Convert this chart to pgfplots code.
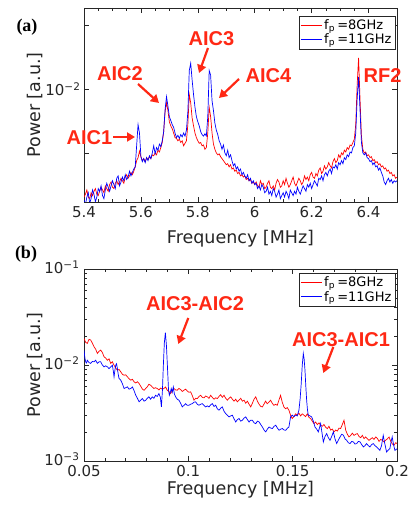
\documentclass[border=0pt]{standalone}
\usepackage{fontspec}
\setmainfont{DejaVu Sans}
\newfontfamily\annfont{Liberation Sans}
\newfontfamily\panelfont{Liberation Serif}
\usepackage{pgfplots}
\pgfplotsset{compat=1.18}
\usetikzlibrary{arrows.meta}

\definecolor{annred}{RGB}{255,40,20}
\definecolor{axgray}{RGB}{38,38,38}

% power values are in units of 1e-3 a.u.
\pgfplotstableread{
f p
5.400 3.1
5.405 3.2
5.410 3.35
5.415 3.1
5.420 3.05
5.425 3.25
5.430 3.15
5.435 3.3
5.440 3.4
5.445 3.2
5.450 3.15
5.455 3.3
5.460 3.45
5.465 3.35
5.470 3.25
5.475 3.5
5.480 3.4
5.485 3.3
5.490 3.55
5.495 3.65
5.500 3.45
5.505 3.4
5.510 3.6
5.515 3.7
5.520 3.55
5.525 3.65
5.530 3.8
5.535 3.7
5.540 3.6
5.545 3.85
5.550 3.95
5.555 3.8
5.560 3.9
5.565 4.05
5.570 3.95
5.575 4.1
5.580 4.3
5.585 4.6
5.590 4.75
5.595 5.1
5.600 4.8
5.605 4.6
5.610 4.7
5.615 4.55
5.620 4.75
5.625 4.65
5.630 4.8
5.635 4.7
5.640 4.9
5.645 4.85
5.650 5.0
5.655 4.9
5.660 5.15
5.665 5.05
5.670 5.3
5.675 5.6
5.680 6.3
5.685 7.8
5.690 8.6
5.695 7.9
5.700 7.0
5.705 6.7
5.710 6.5
5.715 6.2
5.720 5.9
5.725 5.85
5.730 5.7
5.735 5.8
5.740 5.6
5.745 5.7
5.750 5.4
5.755 5.55
5.760 5.7
5.765 6.8
5.770 9.4
5.775 8.6
5.780 7.3
5.785 6.7
5.790 6.2
5.795 5.9
5.800 5.7
5.805 5.55
5.810 5.6
5.815 5.4
5.820 5.45
5.825 5.2
5.830 5.3
5.835 6.2
5.840 8.2
5.845 7.4
5.850 6.2
5.855 5.5
5.860 5.2
5.865 5.0
5.870 4.9
5.875 4.95
5.880 4.8
5.885 4.7
5.890 4.6
5.895 4.5
5.900 4.4
5.905 4.45
5.910 4.3
5.915 4.4
5.920 4.2
5.925 4.25
5.930 4.1
5.935 4.15
5.940 4.0
5.945 4.05
5.950 3.9
5.955 3.95
5.960 3.85
5.965 3.9
5.970 3.75
5.975 3.8
5.980 3.7
5.985 3.75
5.990 3.6
5.995 3.65
6.000 3.55
6.005 3.65
6.010 3.5
6.015 3.45
6.020 3.7
6.025 3.55
6.030 3.6
6.035 3.4
6.040 3.45
6.045 3.6
6.050 3.7
6.055 3.45
6.060 3.4
6.065 3.5
6.070 3.35
6.075 3.6
6.080 3.75
6.085 3.65
6.090 3.45
6.095 3.5
6.100 3.7
6.105 3.55
6.110 3.8
6.115 3.6
6.120 3.45
6.125 3.55
6.130 3.7
6.135 3.85
6.140 3.6
6.145 3.5
6.150 3.65
6.155 3.8
6.160 3.7
6.165 3.55
6.170 3.65
6.175 3.9
6.180 3.75
6.185 3.85
6.190 3.7
6.195 3.95
6.200 4.05
6.205 3.85
6.210 3.8
6.215 4.0
6.220 3.9
6.225 4.15
6.230 4.25
6.235 4.0
6.240 4.1
6.245 4.35
6.250 4.2
6.255 4.3
6.260 4.5
6.265 4.35
6.270 4.25
6.275 4.55
6.280 4.7
6.285 4.5
6.290 4.6
6.295 4.9
6.300 4.75
6.305 5.0
6.310 4.9
6.315 5.15
6.320 5.05
6.325 5.3
6.330 5.2
6.335 5.45
6.340 5.4
6.345 5.6
6.350 5.8
6.355 6.8
6.360 10.5
6.365 14.0
6.370 9.0
6.375 6.0
6.380 5.2
6.385 5.0
6.390 5.05
6.395 4.85
6.400 4.9
6.405 4.75
6.410 4.8
6.415 4.6
6.420 4.65
6.425 4.5
6.430 4.55
6.435 4.4
6.440 4.45
6.445 4.3
6.450 4.35
6.455 4.2
6.460 4.25
6.465 4.1
6.470 4.15
6.475 4.0
6.480 4.05
6.485 3.9
6.490 3.95
6.495 3.8
6.500 3.85
}\aRed

\pgfplotstableread{
f p
5.400 3.0
5.405 2.85
5.410 3.1
5.415 3.25
5.420 2.9
5.425 3.05
5.430 3.35
5.435 3.2
5.440 2.95
5.445 3.1
5.450 3.4
5.455 3.3
5.460 3.5
5.465 3.15
5.470 3.05
5.475 3.35
5.480 3.6
5.485 3.45
5.490 3.3
5.495 3.5
5.500 3.7
5.505 3.55
5.510 3.4
5.515 3.8
5.520 3.9
5.525 3.5
5.530 3.65
5.535 3.85
5.540 3.7
5.545 3.95
5.550 3.75
5.555 3.85
5.560 4.1
5.565 3.9
5.570 4.05
5.575 4.2
5.580 4.3
5.585 5.4
5.590 6.8
5.595 6.2
5.600 4.8
5.605 4.55
5.610 4.7
5.615 4.5
5.620 4.75
5.625 4.6
5.630 4.85
5.635 4.7
5.640 5.0
5.645 5.4
5.650 4.95
5.655 5.3
5.660 5.15
5.665 5.5
5.670 5.35
5.675 5.7
5.680 6.3
5.685 8.0
5.690 9.2
5.695 8.3
5.700 7.4
5.705 7.1
5.710 6.8
5.715 6.6
5.720 6.2
5.725 5.9
5.730 6.05
5.735 5.85
5.740 6.1
5.745 5.95
5.750 6.2
5.755 6.0
5.760 6.4
5.765 7.8
5.770 12.2
5.775 13.2
5.780 11.0
5.785 9.4
5.790 8.2
5.795 7.4
5.800 7.0
5.805 6.7
5.810 6.3
5.815 6.1
5.820 6.0
5.825 6.15
5.830 6.0
5.835 7.4
5.840 12.2
5.845 11.6
5.850 8.8
5.855 7.9
5.860 6.9
5.865 6.4
5.870 6.1
5.875 5.7
5.880 5.5
5.885 5.2
5.890 5.45
5.895 5.0
5.900 4.85
5.905 5.15
5.910 4.75
5.915 4.9
5.920 4.6
5.925 4.35
5.930 4.45
5.935 4.2
5.940 4.3
5.945 4.1
5.950 4.2
5.955 3.95
5.960 4.05
5.965 3.9
5.970 3.8
5.975 3.95
5.980 3.7
5.985 3.8
5.990 3.6
5.995 3.7
6.000 3.55
6.005 3.6
6.010 3.4
6.015 3.5
6.020 3.35
6.025 3.55
6.030 3.45
6.035 3.25
6.040 3.3
6.045 3.45
6.050 3.2
6.055 3.3
6.060 3.15
6.065 3.4
6.070 3.3
6.075 3.1
6.080 3.2
6.085 3.35
6.090 3.05
6.095 3.15
6.100 3.25
6.105 3.1
6.110 3.3
6.115 3.2
6.120 3.05
6.125 3.35
6.130 3.25
6.135 3.15
6.140 3.3
6.145 3.2
6.150 3.45
6.155 3.3
6.160 3.2
6.165 3.35
6.170 3.5
6.175 3.4
6.180 3.3
6.185 3.55
6.190 3.45
6.195 3.6
6.200 3.4
6.205 3.55
6.210 3.7
6.215 3.6
6.220 3.5
6.225 3.8
6.230 3.75
6.235 3.9
6.240 3.7
6.245 3.95
6.250 4.05
6.255 3.9
6.260 4.1
6.265 4.2
6.270 4.0
6.275 4.3
6.280 4.25
6.285 4.4
6.290 4.2
6.295 4.5
6.300 4.4
6.305 4.6
6.310 4.45
6.315 4.75
6.320 4.65
6.325 4.9
6.330 4.8
6.335 5.05
6.340 5.0
6.345 5.3
6.350 5.4
6.355 6.2
6.360 9.0
6.365 11.4
6.370 8.0
6.375 5.6
6.380 5.0
6.385 4.9
6.390 5.0
6.395 4.75
6.400 4.7
6.405 4.55
6.410 4.6
6.415 4.4
6.420 4.5
6.425 4.3
6.430 4.35
6.435 4.15
6.440 4.25
6.445 4.05
6.450 3.9
6.455 3.65
6.460 3.55
6.465 3.7
6.470 3.8
6.475 3.65
6.480 3.75
6.485 3.6
6.490 3.7
6.495 3.65
6.500 3.7
}\aBlue

\pgfplotstableread{
f p
0.0500 18.9
0.0508 17.2
0.0516 16.8
0.0524 18.5
0.0532 18.2
0.0540 16.9
0.0548 15.5
0.0556 14.6
0.0564 13.2
0.0572 13.9
0.0580 14.3
0.0588 13.5
0.0596 12.2
0.0604 11.8
0.0612 11.2
0.0620 11.6
0.0628 10.4
0.0636 10.8
0.0644 9.95
0.0652 9.3
0.0660 8.83
0.0668 9.0
0.0676 8.49
0.0684 8.0
0.0692 7.83
0.0700 7.9
0.0708 7.53
0.0716 7.2
0.0724 6.95
0.0732 7.1
0.0740 6.67
0.0748 6.5
0.0756 6.7
0.0764 6.41
0.0772 6.0
0.0780 5.6
0.0788 5.46
0.0796 5.7
0.0803 5.92
0.0811 6.3
0.0819 6.16
0.0827 5.9
0.0835 5.69
0.0843 5.8
0.0851 5.69
0.0859 5.5
0.0867 5.75
0.0875 5.6
0.0883 5.69
0.0891 5.9
0.0899 5.46
0.0907 5.3
0.0915 5.04
0.0923 5.4
0.0931 5.69
0.0939 5.5
0.0947 5.46
0.0955 5.7
0.0963 5.55
0.0971 5.3
0.0979 5.46
0.0987 5.6
0.0995 5.35
0.1003 5.2
0.1011 5.25
0.1019 4.8
0.1027 4.30
0.1035 4.5
0.1043 4.47
0.1051 4.7
0.1059 4.84
0.1067 4.6
0.1075 4.55
0.1083 4.75
0.1091 4.66
0.1099 4.5
0.1107 4.84
0.1115 4.6
0.1123 4.4
0.1131 4.55
0.1139 4.47
0.1147 4.7
0.1155 4.9
0.1163 4.6
0.1171 4.84
0.1179 4.5
0.1187 4.30
0.1195 4.5
0.1203 4.66
0.1211 4.4
0.1219 4.2
0.1227 4.4
0.1235 4.13
0.1243 4.3
0.1251 4.5
0.1259 4.2
0.1267 4.30
0.1275 4.0
0.1283 4.2
0.1291 3.9
0.1299 3.66
0.1307 4.0
0.1315 4.4
0.1323 4.66
0.1331 4.2
0.1339 3.9
0.1347 3.7
0.1355 3.66
0.1362 3.9
0.1370 4.2
0.1378 3.95
0.1386 4.1
0.1394 4.30
0.1402 4.0
0.1410 3.8
0.1418 3.9
0.1426 3.81
0.1434 4.3
0.1442 4.84
0.1450 4.1
0.1458 3.66
0.1466 3.5
0.1474 3.6
0.1482 3.38
0.1490 3.0
0.1498 2.77
0.1506 2.9
0.1514 3.1
0.1522 3.0
0.1530 3.15
0.1538 2.95
0.1546 3.1
0.1554 3.0
0.1562 2.9
0.1570 3.1
0.1578 2.85
0.1586 2.77
0.1594 2.6
0.1602 2.45
0.1610 2.55
0.1618 2.4
0.1626 2.5
0.1634 2.36
0.1642 2.3
0.1650 2.4
0.1658 2.25
0.1666 2.17
0.1674 2.3
0.1682 2.1
0.1690 2.15
0.1698 2.01
0.1706 2.1
0.1714 2.05
0.1722 2.2
0.1730 2.18
0.1738 2.4
0.1746 2.66
0.1754 2.1
0.1762 1.9
0.1770 1.78
0.1778 1.85
0.1786 1.95
0.1794 1.85
0.1802 1.9
0.1810 1.93
0.1818 1.8
0.1826 1.75
0.1834 1.85
0.1842 1.71
0.1850 1.78
0.1858 1.7
0.1866 1.64
0.1874 1.7
0.1882 1.75
0.1890 1.68
0.1898 1.78
0.1906 1.72
0.1914 1.6
0.1922 1.68
0.1930 1.64
0.1938 1.58
0.1946 1.65
0.1954 1.7
0.1962 1.78
0.1970 1.6
0.1978 1.5
0.1986 1.46
0.1994 1.55
0.2000 1.52
}\bRed

\pgfplotstableread{
f p
0.0500 14.3
0.0504 12.0
0.0508 10.8
0.0512 10.5
0.0516 11.2
0.0524 10.6
0.0532 10.4
0.0540 10.9
0.0548 10.8
0.0556 11.2
0.0564 10.4
0.0572 10.8
0.0580 10.8
0.0588 10.0
0.0596 9.57
0.0604 9.8
0.0612 9.57
0.0620 9.18
0.0628 9.57
0.0636 9.95
0.0641 8.5
0.0644 7.53
0.0648 8.8
0.0652 9.95
0.0656 10.3
0.0660 9.18
0.0664 8.0
0.0668 7.23
0.0676 6.95
0.0684 6.4
0.0692 5.69
0.0700 5.8
0.0708 5.92
0.0716 5.6
0.0724 5.69
0.0732 5.92
0.0740 5.4
0.0748 4.84
0.0756 4.5
0.0764 4.13
0.0772 4.3
0.0780 4.47
0.0788 4.2
0.0796 4.30
0.0803 4.5
0.0811 4.66
0.0819 4.4
0.0827 4.66
0.0835 4.5
0.0843 4.84
0.0851 4.7
0.0859 5.04
0.0866 4.6
0.0871 3.66
0.0876 5.5
0.0880 9.57
0.0885 17.0
0.0890 21.7
0.0895 16.0
0.0900 9.5
0.0905 5.5
0.0909 4.84
0.0914 5.2
0.0918 5.69
0.0923 5.2
0.0928 5.92
0.0933 5.0
0.0939 4.66
0.0947 4.4
0.0955 4.30
0.0963 4.0
0.0971 3.66
0.0979 3.8
0.0987 3.96
0.0995 3.8
0.1003 3.81
0.1011 3.9
0.1019 3.96
0.1027 4.1
0.1035 4.13
0.1043 3.9
0.1051 3.81
0.1059 3.9
0.1067 3.96
0.1075 3.8
0.1083 3.66
0.1091 3.75
0.1099 3.66
0.1107 3.85
0.1115 3.96
0.1123 3.7
0.1131 3.81
0.1139 3.5
0.1147 3.38
0.1155 3.55
0.1163 3.66
0.1171 3.3
0.1179 3.12
0.1187 3.0
0.1195 2.88
0.1203 2.95
0.1211 3.0
0.1219 2.75
0.1227 2.55
0.1235 2.7
0.1243 2.77
0.1251 2.6
0.1259 2.66
0.1267 2.8
0.1275 2.88
0.1283 2.7
0.1291 2.55
0.1299 2.66
0.1307 2.66
0.1315 2.5
0.1323 2.45
0.1331 2.6
0.1339 2.55
0.1347 2.4
0.1355 2.26
0.1363 2.1
0.1371 2.01
0.1379 2.15
0.1387 2.26
0.1395 2.2
0.1403 2.18
0.1411 2.3
0.1419 2.36
0.1427 2.2
0.1435 2.09
0.1443 2.15
0.1451 2.18
0.1459 2.1
0.1467 2.09
0.1475 2.2
0.1482 2.26
0.1490 2.88
0.1498 3.0
0.1506 2.9
0.1514 3.0
0.1522 2.95
0.1530 3.38
0.1536 4.5
0.1541 6.41
0.1546 10.0
0.1551 13.2
0.1555 11.5
0.1559 8.83
0.1563 6.0
0.1567 4.30
0.1571 3.4
0.1575 3.0
0.1583 2.95
0.1591 2.88
0.1599 2.6
0.1607 2.26
0.1615 2.15
0.1623 2.01
0.1628 2.2
0.1634 2.45
0.1640 2.0
0.1647 1.58
0.1655 1.8
0.1663 1.93
0.1671 1.75
0.1679 1.64
0.1687 1.8
0.1695 2.01
0.1703 1.7
0.1711 1.52
0.1719 1.65
0.1727 1.78
0.1735 1.9
0.1743 1.86
0.1751 1.7
0.1759 1.64
0.1767 1.55
0.1775 1.52
0.1783 1.6
0.1791 1.58
0.1799 1.5
0.1807 1.52
0.1815 1.6
0.1823 1.58
0.1831 1.48
0.1839 1.40
0.1847 1.45
0.1854 1.52
0.1862 1.45
0.1870 1.40
0.1878 1.48
0.1886 1.52
0.1894 1.45
0.1902 1.40
0.1910 1.35
0.1918 1.29
0.1926 1.45
0.1934 1.85
0.1942 1.5
0.1950 1.24
0.1958 1.3
0.1966 1.35
0.1972 1.6
0.1977 1.78
0.1983 1.5
0.1990 1.29
0.2000 1.34
}\bBlue

\pgfplotsset{
  spec/.style={
    scale only axis,
    width=313pt,
    axis line style={axgray, line width=0.6pt},
    every tick/.style={axgray, line width=0.6pt},
    tick align=inside,
    major tick length=5pt,
    minor tick length=3pt,
    tick label style={axgray, font=\fontsize{15}{17}\selectfont},
    xticklabel style={yshift=-1pt},
    label style={font=\fontsize{17.5}{20}\selectfont, text=black!85},
    xlabel={Frequency [MHz]},
    ylabel={Power [a.u.]},
    ylabel style={at={(axis description cs:-0.157,0.5)}, anchor=center},
    legend cell align=left,
    legend style={draw=axgray, line width=0.5pt,
      font=\fontsize{13}{15}\selectfont, inner sep=1.5pt,
      row sep=-1pt, anchor=north east},
  },
  redline/.style={draw=red, line width=0.7pt},
  blueline/.style={draw=blue, line width=0.7pt},
  redkey/.style={legend image code/.code={\draw[draw=red, line width=0.9pt] (0pt,0pt) -- (21pt,0pt);}},
  bluekey/.style={legend image code/.code={\draw[draw=blue, line width=0.9pt] (0pt,0pt) -- (21pt,0pt);}},
}

\begin{document}
\begin{tikzpicture}[x=1pt,y=1pt]
\useasboundingbox (0,0) rectangle (410,508);

% panel (a)
\begin{axis}[spec, ymode=log,
  at={(84pt,306pt)}, anchor=south west,
  height=194pt,
  xmin=5.4, xmax=6.5,
  ymin=2.94, ymax=24,
  xtick={5.4,5.6,5.8,6.0,6.2,6.4},
  xticklabels={5.4,5.6,5.8,6,6.2,6.4},
  minor x tick num=3,
  ytick={5,10,20},
  yticklabels={,10\textsuperscript{−2},},
  yminorticks=false,
  xlabel style={at={(axis description cs:0.5,-0.19)}, anchor=center},
  legend style={at={(axis description cs:0.994,0.959)}},
]
\addplot[redline, redkey] table[x=f,y=p] {\aRed};
\addlegendentry{f\textsubscript{p}\,=8GHz}
\addplot[blueline, bluekey] table[x=f,y=p] {\aBlue};
\addlegendentry{f\textsubscript{p}\,=11GHz}
\end{axis}

% panel (b)
\begin{axis}[spec, ymode=log,
  at={(84pt,47pt)}, anchor=south west,
  height=192pt,
  xmin=0.05, xmax=0.2,
  ymin=1, ymax=100,
  xtick={0.05,0.1,0.15,0.2},
  xticklabels={0.05,0.1,0.15,0.2},
  minor x tick num=4,
  ytick={1,10,100},
  yticklabels={10\textsuperscript{−3},10\textsuperscript{−2},10\textsuperscript{−1}},
  yticklabel style={xshift=-1pt, yshift=2pt},
  xlabel style={at={(axis description cs:0.5,-0.151)}, anchor=center},
  legend style={at={(axis description cs:0.994,0.979)}},
]
\addplot[redline, redkey] table[x=f,y=p] {\bRed};
\addlegendentry{f\textsubscript{p}\,=8GHz}
\addplot[blueline, bluekey] table[x=f,y=p] {\bBlue};
\addlegendentry{f\textsubscript{p}\,=11GHz}
\end{axis}

% panel letters
\node[font=\panelfont\bfseries\fontsize{18}{20}\selectfont] at (27,481) {(a)};
\node[font=\panelfont\bfseries\fontsize{18}{20}\selectfont] at (26,254) {(b)};

% annotations
\begin{scope}[annred, font=\annfont\bfseries\fontsize{20}{22}\selectfont,
  arr/.style={-{Triangle[length=8pt,width=9pt]}, line width=2.2pt}]
\node at (89.5,370.5) {AIC1};
\draw[arr] (113,371) -- (135,371);
\node at (120,434.5) {AIC2};
\draw[arr] (138,424) -- (159,405);
\node at (211.5,469.5) {AIC3};
\draw[arr] (208,460) -- (199,435);
\node at (268.5,432.5) {AIC4};
\draw[arr] (239,429) -- (219,410);
\node at (382.5,432.5) {RF2};
\node at (195,204.5) {AIC3-AIC2};
\draw[arr] (188.3,190) -- (178.3,164);
\node at (341,168) {AIC3-AIC1};
\draw[arr] (333.3,161) -- (323.3,135);
\end{scope}
\end{tikzpicture}
\end{document}
